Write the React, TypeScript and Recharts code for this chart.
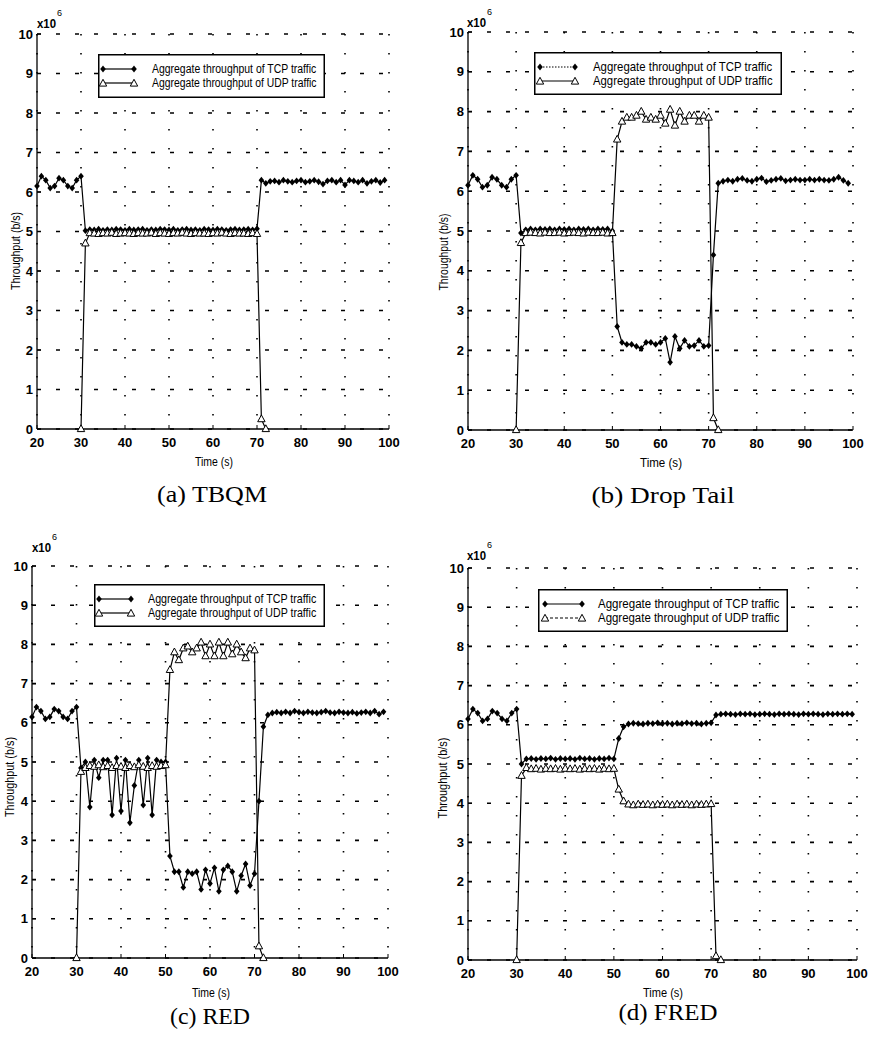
import React from 'react';
import { LineChart, Line, XAxis, YAxis, CartesianGrid, Legend } from 'recharts';

// sample instants (s)
const time = [
  20, 21, 22, 23, 24, 25, 26, 27, 28, 29,
  30, 31, 32, 33, 34, 35, 36, 37, 38, 39,
  40, 41, 42, 43, 44, 45, 46, 47, 48, 49,
  50, 51, 52, 53, 54, 55, 56, 57, 58, 59,
  60, 61, 62, 63, 64, 65, 66, 67, 68, 69,
  70, 71, 72, 73, 74, 75, 76, 77, 78, 79,
  80, 81, 82, 83, 84, 85, 86, 87, 88, 89,
  90, 91, 92, 93, 94, 95, 96, 97, 98, 99,
];
// the UDP source is only active around 30..72 s
const udpTime = [
  30, 31, 32, 33, 34, 35, 36, 37, 38, 39,
  40, 41, 42, 43, 44, 45, 46, 47, 48, 49,
  50, 51, 52, 53, 54, 55, 56, 57, 58, 59,
  60, 61, 62, 63, 64, 65, 66, 67, 68, 69,
  70, 71, 72,
];

const xTicks = [20, 30, 40, 50, 60, 70, 80, 90, 100];
const yTicks = [0, 1, 2, 3, 4, 5, 6, 7, 8, 9, 10];

// throughput in units of 10^6 b/s; TCP alone during 20..30 s is identical in all runs
const warmupTcp = [6.15, 6.4, 6.3, 6.1, 6.15, 6.35, 6.3, 6.15, 6.1, 6.3, 6.4];

const tcpTBQM = [
  ...warmupTcp,
  5.02, 5.05, 5.04, 5.06, 5.03, 5.05, 5.04, 5.06, 5.05, 5.03,
  5.06, 5.04, 5.05, 5.06, 5.03, 5.05, 5.04, 5.06, 5.05, 5.04,
  5.06, 5.03, 5.05, 5.06, 5.04, 5.05, 5.03, 5.06, 5.05, 5.04,
  5.06, 5.05, 5.03, 5.05, 5.06, 5.04, 5.05, 5.06, 5.04, 5.07,
  6.3, 6.22, 6.27, 6.28, 6.25, 6.3, 6.27, 6.25, 6.28, 6.3,
  6.25, 6.27, 6.3, 6.26, 6.2, 6.28, 6.3, 6.25, 6.3, 6.18,
  6.3, 6.28, 6.25, 6.3, 6.22, 6.27, 6.3, 6.24, 6.3,
];
const udpTBQM = [
  0, 4.7,
  4.96, 4.95, 4.94, 4.96, 4.95, 4.97, 4.94, 4.95, 4.96, 4.95,
  4.94, 4.96, 4.95, 4.95, 4.97, 4.94, 4.96, 4.95, 4.94, 4.96,
  4.95, 4.97, 4.95, 4.94, 4.96, 4.95, 4.95, 4.94, 4.96, 4.95,
  4.97, 4.95, 4.94, 4.96, 4.95, 4.95, 4.94, 4.96, 4.94,
  0.25, 0,
];

const tcpDropTail = [
  ...warmupTcp,
  4.95, 5.03, 5.05, 5.03, 5.05, 5.04, 5.05, 5.03, 5.05, 5.04,
  5.05, 5.03, 5.05, 5.04, 5.05, 5.03, 5.05, 5.04, 5.05, 5.0,
  2.6, 2.2, 2.15, 2.15, 2.1, 2.05, 2.2, 2.2, 2.15, 2.2,
  2.3, 1.7, 2.35, 2.05, 2.25, 2.1, 2.12, 2.25, 2.1, 2.12,
  4.4, 6.2, 6.25, 6.28, 6.25, 6.3, 6.32, 6.27, 6.25, 6.3,
  6.33, 6.24, 6.27, 6.3, 6.32, 6.26, 6.28, 6.3, 6.28, 6.28,
  6.3, 6.28, 6.3, 6.28, 6.27, 6.3, 6.35, 6.27, 6.2,
];
const udpDropTail = [
  0, 4.7,
  4.95, 4.96, 4.95, 4.94, 4.96, 4.95, 4.95, 4.96, 4.94, 4.95,
  4.96, 4.95, 4.94, 4.96, 4.95, 4.95, 4.96, 4.94, 4.95,
  7.3, 7.75, 7.85, 7.85, 7.9, 8.0, 7.8, 7.85, 7.8, 7.9,
  7.7, 8.05, 7.65, 8.0, 7.75, 7.9, 7.9, 7.75, 7.9, 7.85,
  0.3, 0,
];

const tcpRED = [
  ...warmupTcp,
  4.85, 5.0, 3.85, 5.05, 4.6, 5.05, 5.05, 3.65, 5.1, 3.75,
  5.05, 3.45, 4.4, 5.05, 3.9, 5.1, 3.65, 5.05, 5.0, 5.0,
  2.6, 2.2, 2.2, 1.8, 2.2, 2.15, 2.2, 1.75, 2.25, 1.9,
  2.3, 1.7, 2.25, 2.35, 2.2, 1.7, 2.1, 2.4, 1.85, 2.15,
  4.0, 5.9, 6.2, 6.25, 6.27, 6.25, 6.28, 6.25, 6.3, 6.27,
  6.25, 6.28, 6.26, 6.25, 6.27, 6.3, 6.26, 6.25, 6.28, 6.26,
  6.25, 6.27, 6.24, 6.26, 6.28, 6.25, 6.3, 6.22, 6.28,
];
const udpRED = [
  0, 4.75,
  4.85, 4.9, 4.88, 4.92, 4.87, 4.9, 4.85, 4.9, 4.88, 4.85,
  4.9, 4.87, 4.92, 4.88, 4.85, 4.9, 4.88, 4.9, 4.92,
  7.35, 7.8, 7.6, 7.9, 7.95, 7.8, 7.9, 8.05, 7.7, 8.0,
  7.7, 8.05, 7.7, 8.05, 7.75, 8.0, 7.8, 7.65, 7.9, 7.85,
  0.3, 0,
];

const tcpFRED = [
  ...warmupTcp,
  5.0, 5.13, 5.14, 5.12, 5.14, 5.13, 5.15, 5.12, 5.14, 5.13,
  5.14, 5.12, 5.15, 5.13, 5.14, 5.12, 5.14, 5.13, 5.15, 5.13,
  5.65, 5.95, 6.02, 6.04, 6.03, 6.02, 6.04, 6.03, 6.05, 6.03,
  6.04, 6.02, 6.04, 6.03, 6.05, 6.03, 6.04, 6.02, 6.04, 6.05,
  6.25, 6.27, 6.28, 6.27, 6.26, 6.28, 6.27, 6.28, 6.26, 6.27,
  6.28, 6.27, 6.26, 6.28, 6.27, 6.28, 6.27, 6.26, 6.28, 6.27,
  6.28, 6.27, 6.26, 6.28, 6.27, 6.28, 6.27, 6.28, 6.27,
];
const udpFRED = [
  0, 4.7,
  4.9, 4.87, 4.88, 4.86, 4.88, 4.87, 4.88, 4.86, 4.88, 4.87,
  4.88, 4.86, 4.88, 4.87, 4.88, 4.86, 4.88, 4.87, 4.88,
  4.35, 4.05, 3.97, 3.95, 3.97, 3.96, 3.97, 3.95, 3.97, 3.96,
  3.97, 3.95, 3.97, 3.96, 3.97, 3.95, 3.97, 3.96, 3.97, 3.98,
  0.1, 0,
];

const TCP_LABEL = 'Aggregate throughput of TCP traffic';
const UDP_LABEL = 'Aggregate throughput of UDP traffic';

const FONT = "'Liberation Sans', Arial, sans-serif";
const SERIF = "'Liberation Serif', 'Times New Roman', serif";
// advance widths (em) of the legend strings in Liberation Sans, used to squeeze them
const EM_TCP = 15.79;
const EM_UDP = 15.9;
const LEG_FS = 13.5;

// chart chrome around the plot area
const ML = 40; // y axis width
const MT = 25;
const MR = 15;
const XH = 45; // x axis height

type Pt = { x: number; y: number };
type Spec = {
  key: string;
  caption: string;
  plot: { x: number; y: number; w: number; h: number };
  tcp: number[];
  udp: number[];
  legend: { x: number; y: number; w: number; h: number; s1: number; s2: number; tx: number; tw: number };
  tcpDash?: string;
  udpDash?: string;
  exp: Pt;
  yLab: Pt & { len: number };
  xLab: Pt & { len: number };
  cap: Pt & { len: number };
};

const panels: Spec[] = [
  {
    key: 'a', caption: '(a) TBQM',
    plot: { x: 37, y: 34, w: 352, h: 395 },
    tcp: tcpTBQM, udp: udpTBQM,
    legend: { x: 98, y: 54, w: 227, h: 44, s1: 5, s2: 36, tx: 54, tw: 165 },
    exp: { x: 37, y: 28 }, yLab: { x: 16, y: 251, len: 78 }, xLab: { x: 214, y: 462, len: 38 },
    cap: { x: 212, y: 502, len: 110 },
  },
  {
    key: 'b', caption: '(b) Drop Tail',
    plot: { x: 468, y: 32, w: 385, h: 398 },
    tcp: tcpDropTail, udp: udpDropTail,
    legend: { x: 534, y: 52, w: 248, h: 43, s1: 6, s2: 41, tx: 59, tw: 180 },
    tcpDash: '1.5 1.5',
    exp: { x: 467, y: 27 }, yLab: { x: 444, y: 252, len: 77 }, xLab: { x: 661, y: 463, len: 42 },
    cap: { x: 663, y: 503, len: 143 },
  },
  {
    key: 'c', caption: '(c) RED',
    plot: { x: 32, y: 566, w: 356, h: 392 },
    tcp: tcpRED, udp: udpRED,
    legend: { x: 94, y: 584, w: 231, h: 43, s1: 5, s2: 37, tx: 54, tw: 169 },
    exp: { x: 32, y: 552 }, yLab: { x: 10, y: 777, len: 80 }, xLab: { x: 211, y: 993, len: 38 },
    cap: { x: 210, y: 1024, len: 80 },
  },
  {
    key: 'd', caption: '(d) FRED',
    plot: { x: 468, y: 568, w: 389, h: 392 },
    tcp: tcpFRED, udp: udpFRED,
    legend: { x: 538, y: 589, w: 250, h: 43, s1: 7, s2: 44, tx: 60, tw: 182 },
    udpDash: '3 2',
    exp: { x: 467, y: 560 }, yLab: { x: 443, y: 778, len: 81 }, xLab: { x: 663, y: 993, len: 40 },
    cap: { x: 668, y: 1020, len: 99 },
  },
];

const diamondPath = (cx: number, cy: number) =>
  `M${cx},${cy - 3.4}L${cx + 2.8},${cy}L${cx},${cy + 3.4}L${cx - 2.8},${cy}Z`;
const trianglePath = (cx: number, cy: number) =>
  `M${cx},${cy - 4.2}L${cx + 3.7},${cy + 2.6}L${cx - 3.7},${cy + 2.6}Z`;

const DiamondDot = (p: any) => {
  if (p.cx == null || p.cy == null) return <g key={`d${p.index}`} />;
  return <path key={`d${p.index}`} d={diamondPath(p.cx, p.cy)} fill="#000" />;
};
const TriangleDot = (p: any) => {
  if (p.cx == null || p.cy == null) return <g key={`t${p.index}`} />;
  return <path key={`t${p.index}`} d={trianglePath(p.cx, p.cy)} fill="#fff" stroke="#000" strokeWidth={1} />;
};

function LegendBox({ spec }: { spec: Spec }) {
  const lg = spec.legend;
  const rows = [
    { y: 15, label: TCP_LABEL, em: EM_TCP, dash: spec.tcpDash, tri: false },
    { y: 29, label: UDP_LABEL, em: EM_UDP, dash: spec.udpDash, tri: true },
  ];
  return (
    <svg width={lg.w} height={lg.h} style={{ display: 'block' }}>
      <rect x={0.75} y={0.75} width={lg.w - 1.5} height={lg.h - 1.5} fill="#fff" stroke="#000" strokeWidth={1.5} />
      {rows.map((r) => (
        <g key={r.label}>
          <line x1={lg.s1} x2={lg.s2} y1={r.y} y2={r.y} stroke="#000" strokeWidth={1.2} strokeDasharray={r.dash} />
          {[lg.s1, lg.s2].map((x) =>
            r.tri ? (
              <path key={x} d={trianglePath(x, r.y + 0.5)} fill="#fff" stroke="#000" strokeWidth={1} />
            ) : (
              <path key={x} d={diamondPath(x, r.y)} fill="#000" />
            )
          )}
          <text
            transform={`translate(${lg.tx},${r.y}) scale(${(lg.tw / (r.em * LEG_FS)).toFixed(3)},1)`}
            dominantBaseline="central"
            fontFamily={FONT}
            fontSize={LEG_FS}
            fill="#000"
          >
            {r.label}
          </text>
        </g>
      ))}
    </svg>
  );
}

function Panel({ spec }: { spec: Spec }) {
  const { plot } = spec;
  const left = plot.x - ML;
  const top = plot.y - MT;
  const tcpData = time.map((t, i) => ({ t, v: spec.tcp[i] }));
  const udpData = udpTime.map((t, i) => ({ t, v: spec.udp[i] }));
  const tickStyle = { fontSize: 13, fill: '#000', fontFamily: FONT, fontWeight: 'bold' as const };

  return (
    <div style={{ position: 'absolute', left, top }}>
      <LineChart
        width={ML + plot.w + MR}
        height={MT + plot.h + XH}
        margin={{ top: MT, right: MR, left: 0, bottom: 0 }}
      >
        <CartesianGrid vertical={false} stroke="#000" strokeWidth={1.6} strokeDasharray="4 15" />
        <CartesianGrid horizontal={false} stroke="#000" strokeWidth={1.6} strokeDasharray="1.6 17.4" />
        <XAxis
          type="number"
          dataKey="t"
          domain={[20, 100]}
          ticks={xTicks}
          interval={0}
          height={XH}
          tickSize={-4}
          tickMargin={13}
          tick={tickStyle}
          axisLine={{ stroke: '#000', strokeWidth: 1.3 }}
          tickLine={{ stroke: '#000' }}
        />
        <YAxis
          type="number"
          domain={[0, 10]}
          ticks={yTicks}
          interval={0}
          width={ML}
          tickSize={-4}
          tickMargin={8}
          tick={tickStyle}
          axisLine={{ stroke: '#000', strokeWidth: 1.3 }}
          tickLine={{ stroke: '#000' }}
        />
        <Legend
          layout="horizontal"
          verticalAlign="middle"
          align="center"
          wrapperStyle={{
            left: spec.legend.x - left,
            top: spec.legend.y - top,
            width: spec.legend.w,
            height: spec.legend.h,
          }}
          content={() => <LegendBox spec={spec} />}
        />
        <Line
          data={tcpData}
          dataKey="v"
          name="TCP"
          stroke="#000"
          strokeWidth={1.2}
          dot={DiamondDot}
          activeDot={false}
          isAnimationActive={false}
        />
        <Line
          data={udpData}
          dataKey="v"
          name="UDP"
          stroke="#000"
          strokeWidth={1.2}
          dot={TriangleDot}
          activeDot={false}
          isAnimationActive={false}
        />
      </LineChart>
    </div>
  );
}

export default function App() {
  return (
    <div style={{ position: 'absolute', left: 0, top: 0, width: 871, height: 1055, background: '#fff' }}>
      {panels.map((p) => (
        <Panel key={p.key} spec={p} />
      ))}
      <svg
        width={871}
        height={1055}
        style={{ position: 'absolute', left: 0, top: 0, pointerEvents: 'none' }}
      >
        {panels.map((p) => (
          <g key={p.key} fill="#000">
            <text x={p.exp.x} y={p.exp.y} fontFamily={FONT} fontSize={12} fontWeight="bold" textLength={19} lengthAdjust="spacingAndGlyphs">
              x10
            </text>
            <text x={p.exp.x + 20} y={p.exp.y - 12} fontFamily={FONT} fontSize={9}>
              6
            </text>
            <text
              x={p.yLab.x}
              y={p.yLab.y}
              transform={`rotate(-90 ${p.yLab.x} ${p.yLab.y})`}
              textAnchor="middle"
              dominantBaseline="central"
              fontFamily={FONT}
              fontSize={12}
              textLength={p.yLab.len}
              lengthAdjust="spacingAndGlyphs"
            >
              Throughput (b/s)
            </text>
            <text
              x={p.xLab.x}
              y={p.xLab.y}
              textAnchor="middle"
              dominantBaseline="central"
              fontFamily={FONT}
              fontSize={12}
              textLength={p.xLab.len}
              lengthAdjust="spacingAndGlyphs"
            >
              Time (s)
            </text>
            <text
              x={p.cap.x}
              y={p.cap.y}
              textAnchor="middle"
              fontFamily={SERIF}
              fontSize={24}
              textLength={p.cap.len}
              lengthAdjust="spacingAndGlyphs"
            >
              {p.caption}
            </text>
          </g>
        ))}
      </svg>
    </div>
  );
}
